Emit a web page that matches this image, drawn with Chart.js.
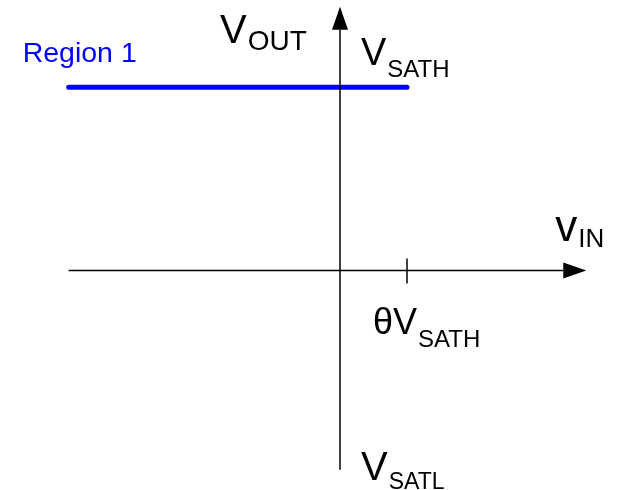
<!DOCTYPE html>
<html>
<head>
<meta charset="utf-8">
<title>Comparator transfer characteristic</title>
<script src="https://cdn.jsdelivr.net/npm/chart.js@4/dist/chart.umd.min.js"></script>
<style>
  html, body { margin: 0; padding: 0; background: #fff; }
  #wrap { width: 620px; height: 490px; }
</style>
</head>
<body>
<div id="wrap"><canvas id="chart" width="620" height="490"></canvas></div>
<script>
// Region 1: output held at V_SATH for inputs below the threshold θ·V_SATH
const vin = [-1.62, 0.4];
const vout = [1, 1];
const theta = 0.4;            // threshold, in units of V_SATH
const xAxisSpan = [-1.62, 1.47];
const yAxisSpan = [-1.09, 1.44];
const regionLabel = 'Region 1';

// draws text with a subscript part
function subText(ctx, x, y, main, mainSize, sub, subSize, subDrop) {
  ctx.font = mainSize + 'px "Liberation Sans", Arial, sans-serif';
  ctx.fillText(main, x, y);
  const w = ctx.measureText(main).width;
  ctx.font = subSize + 'px "Liberation Sans", Arial, sans-serif';
  ctx.fillText(sub, x + w + 1, y + subDrop);
}

const axesPlugin = {
  id: 'axes',
  afterDatasetsDraw(chart) {
    const ctx = chart.ctx;
    const xs = chart.scales.x, ys = chart.scales.y;
    const x0 = xs.getPixelForValue(0), y0 = ys.getPixelForValue(0);
    const xl = xs.getPixelForValue(xAxisSpan[0]), xr = xs.getPixelForValue(xAxisSpan[1]);
    const yb = ys.getPixelForValue(yAxisSpan[0]), yt = ys.getPixelForValue(yAxisSpan[1]);
    const head = 23, half = 8;
    ctx.save();
    ctx.strokeStyle = '#000';
    ctx.fillStyle = '#000';
    ctx.lineWidth = 1.5;

    // horizontal axis + arrow
    ctx.beginPath();
    ctx.moveTo(xl, y0);
    ctx.lineTo(xr - head, y0);
    ctx.stroke();
    ctx.beginPath();
    ctx.moveTo(xr, y0);
    ctx.lineTo(xr - head, y0 - half);
    ctx.lineTo(xr - head, y0 + half);
    ctx.closePath();
    ctx.fill();

    // vertical axis + arrow
    ctx.beginPath();
    ctx.moveTo(x0, yb);
    ctx.lineTo(x0, yt + head);
    ctx.stroke();
    ctx.beginPath();
    ctx.moveTo(x0, yt);
    ctx.lineTo(x0 - half, yt + head);
    ctx.lineTo(x0 + half, yt + head);
    ctx.closePath();
    ctx.fill();

    // threshold tick
    const xt = xs.getPixelForValue(theta);
    ctx.beginPath();
    ctx.moveTo(xt, y0 - 12);
    ctx.lineTo(xt, y0 + 13);
    ctx.stroke();

    // labels
    ctx.textBaseline = 'alphabetic';
    ctx.textAlign = 'left';
    const ysat = ys.getPixelForValue(vout[0]);
    subText(ctx, x0 - 120, 43, 'V', 40, 'OUT', 28, 7);
    subText(ctx, x0 + 21, ysat - 22, 'V', 38, 'SATH', 24, 12);
    subText(ctx, xr - 31, y0 - 29, 'v', 44, 'IN', 26, 6);
    subText(ctx, xt - 34, y0 + 64, 'θV', 36, 'SATH', 24, 13);
    subText(ctx, x0 + 21, yb + 10, 'V', 40, 'SATL', 23, 9);

    ctx.fillStyle = '#0000ff';
    ctx.font = '28.5px "Liberation Sans", Arial, sans-serif';
    ctx.fillText(regionLabel, xl - 46, ysat - 25);
    ctx.restore();
  }
};

new Chart(document.getElementById('chart'), {
  type: 'scatter',
  data: {
    datasets: [{
      label: regionLabel,
      data: vin.map((v, i) => ({ x: v, y: vout[i] })),
      showLine: true,
      borderColor: '#0000ff',
      borderWidth: 5,
      borderCapStyle: 'round',
      pointRadius: 0,
      pointHoverRadius: 0
    }]
  },
  options: {
    responsive: false,
    animation: false,
    layout: { padding: { left: 5, right: 12, top: 5, bottom: 0 } },
    plugins: { legend: { display: false }, tooltip: { enabled: false } },
    scales: {
      x: { type: 'linear', min: -2, max: 1.6, display: false },
      y: { type: 'linear', min: -1.2, max: 1.45, display: false }
    }
  },
  plugins: [axesPlugin]
});
</script>
</body>
</html>
